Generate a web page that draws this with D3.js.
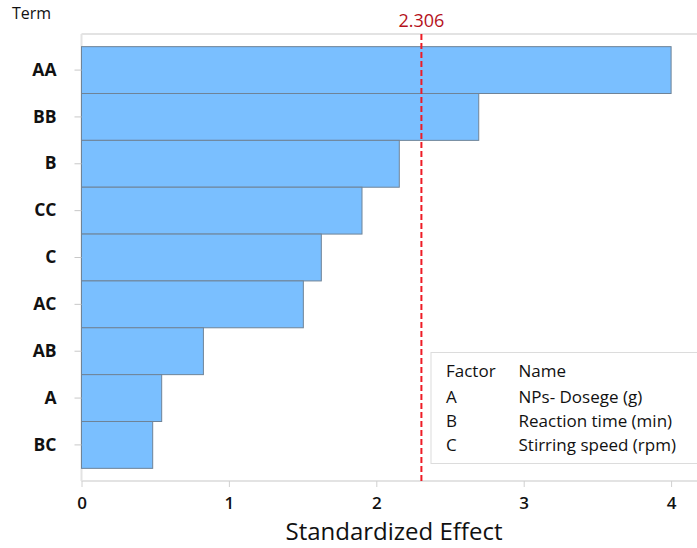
<!DOCTYPE html>
<html>
<head>
<meta charset="utf-8">
<script src="https://cdn.jsdelivr.net/npm/d3@7"></script>
<style>
  html, body { margin: 0; padding: 0; background: #fff; }
  svg { display: block; font-family: "Open Sans", "Noto Sans", sans-serif; }
</style>
</head>
<body>
<svg id="chart" width="697" height="548"></svg>
<script>
// Pareto chart of standardized effects
const terms = ["AA", "BB", "B", "CC", "C", "AC", "AB", "A", "BC"];
const effects = [4.00, 2.695, 2.156, 1.903, 1.627, 1.505, 0.827, 0.544, 0.483];
const xTicks = [0, 1, 2, 3, 4];
const referenceValue = 2.306;
const legendFactors = ["A", "B", "C"];
const legendNames = ["NPs- Dosege (g)", "Reaction time (min)", "Stirring speed (rpm)"];

const svg = d3.select("#chart");
const plot = { left: 81.5, right: 697, top: 34, bottom: 481 };
const font = "'Open Sans', 'Noto Sans', sans-serif";

const x = d3.scaleLinear().domain([0, 4]).range([plot.left, plot.left + 4 * 147.4]);
const y = d3.scaleBand().domain(terms).range([plot.top, plot.bottom])
  .paddingInner(0).paddingOuter(0.27);

// frame lines
const frame = svg.append("g").attr("stroke", "#e3e3e3").attr("stroke-width", 2).attr("fill", "none");
frame.append("line").attr("x1", plot.left).attr("x2", plot.right).attr("y1", plot.top).attr("y2", plot.top);
frame.append("line").attr("x1", plot.left).attr("x2", plot.left).attr("y1", plot.top).attr("y2", plot.bottom);
frame.append("line").attr("x1", plot.left).attr("x2", plot.right).attr("y1", plot.bottom).attr("y2", plot.bottom);

// bars
svg.append("g").selectAll("rect").data(terms).join("rect")
  .attr("x", x(0))
  .attr("y", d => y(d))
  .attr("width", (d, i) => x(effects[i]) - x(0))
  .attr("height", y.bandwidth())
  .attr("fill", "#7abfff")
  .attr("stroke", "#6f8397")
  .attr("stroke-width", 1);

// x axis
const xAxis = svg.append("g").attr("transform", `translate(0,${plot.bottom})`)
  .call(d3.axisBottom(x).tickValues(xTicks).tickFormat(d3.format("d")).tickSize(6).tickPadding(10));
xAxis.select(".domain").remove();
xAxis.selectAll(".tick line").attr("stroke", "#d0d0d0");
xAxis.selectAll(".tick text").attr("font-size", 17).attr("font-weight", 600).attr("fill", "#111")
  .attr("font-family", font);

// y axis
const yAxis = svg.append("g").attr("transform", `translate(${plot.left},0)`)
  .call(d3.axisLeft(y).tickSize(7).tickPadding(18));
yAxis.select(".domain").remove();
yAxis.selectAll(".tick line").attr("stroke", "#c8c8c8");
yAxis.selectAll(".tick text").attr("font-size", 17.5).attr("font-weight", 700).attr("fill", "#111")
  .attr("font-family", font);

// reference line
svg.append("line")
  .attr("x1", x(referenceValue)).attr("x2", x(referenceValue))
  .attr("y1", plot.top).attr("y2", plot.bottom)
  .attr("stroke", "#ee1c25").attr("stroke-width", 2).attr("stroke-dasharray", "6,3");
svg.append("text")
  .attr("x", x(referenceValue)).attr("y", 26.5)
  .attr("text-anchor", "middle").attr("font-size", 18).attr("fill", "#b5121b")
  .text(d3.format(".3f")(referenceValue));

// titles
svg.append("text").attr("x", 12).attr("y", 19).attr("font-size", 16).attr("fill", "#111").text("Term");
svg.append("text").attr("x", 394).attr("y", 540).attr("text-anchor", "middle")
  .attr("font-size", 24).attr("fill", "#111").text("Standardized Effect");

// legend
const lg = svg.append("g");
lg.append("rect").attr("x", 431).attr("y", 352.5).attr("width", 280).attr("height", 111)
  .attr("fill", "#fff").attr("stroke", "#dcdcdc").attr("stroke-width", 1);
const rowY = [377, 402.5, 426.5, 451];
lg.append("text").attr("x", 446).attr("y", rowY[0]).attr("font-size", 17).attr("fill", "#111").text("Factor");
lg.append("text").attr("x", 518.5).attr("y", rowY[0]).attr("font-size", 17).attr("fill", "#111").text("Name");
legendFactors.forEach((f, i) => {
  lg.append("text").attr("x", 446).attr("y", rowY[i + 1]).attr("font-size", 17).attr("fill", "#111").text(f);
  lg.append("text").attr("x", 518.5).attr("y", rowY[i + 1]).attr("font-size", 17).attr("fill", "#111").text(legendNames[i]);
});
</script>
</body>
</html>
